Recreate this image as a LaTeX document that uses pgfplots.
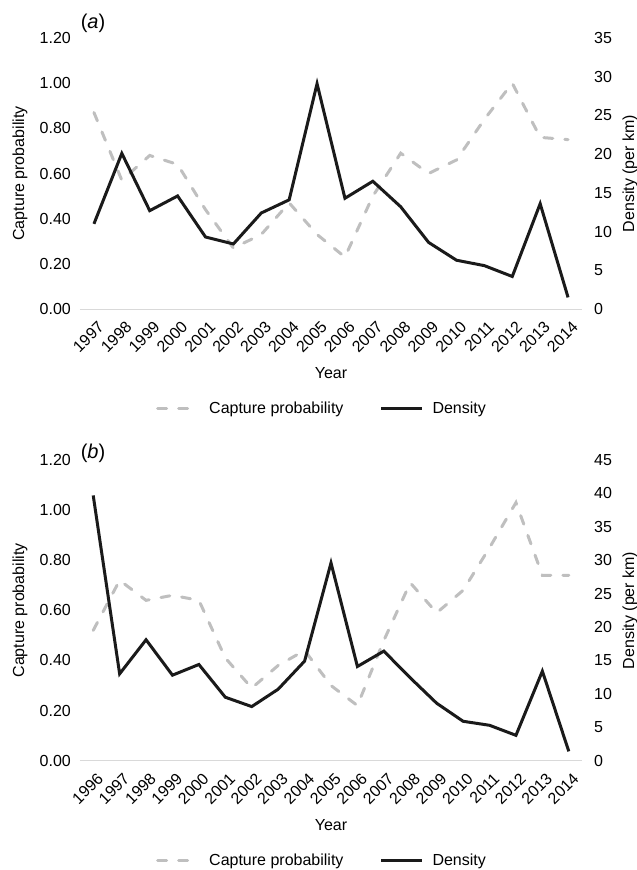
\documentclass[border=0pt]{standalone}
\usepackage{pgfplots}
\pgfplotsset{compat=1.18}
\usepackage{fontspec}
\setmainfont{Liberation Sans}
\definecolor{capg}{HTML}{BFBFBF}
\definecolor{dens}{HTML}{1A1A1A}
\definecolor{basel}{HTML}{D9D9D9}

\pgfplotstableread{
year cap dens
1997 0.87 11.0
1998 0.57 20.1
1999 0.68 12.7
2000 0.64 14.6
2001 0.44 9.3
2002 0.27 8.4
2003 0.33 12.4
2004 0.47 14.1
2005 0.33 29.1
2006 0.23 14.3
2007 0.50 16.5
2008 0.69 13.2
2009 0.60 8.6
2010 0.66 6.3
2011 0.84 5.6
2012 1.00 4.2
2013 0.76 13.6
2014 0.75 1.5
}\dataA

\pgfplotstableread{
year cap dens
1996 0.52 39.7
1997 0.72 13.0
1998 0.64 18.1
1999 0.66 12.8
2000 0.64 14.4
2001 0.41 9.5
2002 0.29 8.1
2003 0.38 10.7
2004 0.44 14.9
2005 0.30 29.6
2006 0.22 14.1
2007 0.48 16.4
2008 0.71 12.4
2009 0.59 8.6
2010 0.68 5.9
2011 0.85 5.3
2012 1.03 3.8
2013 0.74 13.4
2014 0.74 1.4
}\dataB

\pgfplotsset{
  base/.style={
    scale only axis, width=502pt,
    font=\fontsize{16}{19}\selectfont,
    /pgf/number format/assume math mode=true,
    major tick length=0pt, minor tick length=0pt,
    ymin=0, clip=false,
  },
  leftax/.style={base,
    axis x line*=bottom, axis y line*=left,
    x axis line style={draw=basel, line width=1pt, -},
    y axis line style={draw=none},
    ymax=1.2, ytick={0,0.2,0.4,0.6,0.8,1,1.2},
    yticklabel style={/pgf/number format/fixed, /pgf/number format/fixed zerofill, /pgf/number format/precision=2, anchor=east, inner sep=0pt, xshift=-9pt},
    xticklabel style={/pgf/number format/1000 sep={}, inner sep=0pt, xshift=3pt, yshift=-11pt, rotate=45, anchor=north east},
    ylabel={Capture probability},
    ylabel style={at={(axis description cs:-0.1195,0.5)}, anchor=center},
    xlabel={Year},
    xlabel style={at={(axis description cs:0.5,0)}, anchor=center, yshift=-64pt},
  },
  rightax/.style={base,
    axis x line=none, axis y line*=right,
    y axis line style={draw=none},
    xtick=\empty,
    yticklabel style={anchor=west, inner sep=0pt, xshift=12pt},
    ylabel={Density (per km)},
    ylabel style={at={(axis description cs:1.0956,0.5)}, anchor=center, rotate=0},
    legend columns=2,
    legend style={draw=none, fill=none, inner sep=0pt, anchor=west,
      font=\fontsize{16}{19}\selectfont,
      nodes={inner sep=0pt},
      /tikz/every odd column/.append style={column sep=9pt},
      /tikz/every even column/.append style={column sep=36pt}},
    legend image code/.code={\draw[#1] (0pt,0pt) -- (41pt,0pt);},
  },
  capstyle/.style={color=capg, line width=3pt, line cap=round, dash pattern=on 9pt off 12pt},
  densstyle/.style={color=dens, line width=3pt},
}

\begin{document}
\begin{tikzpicture}
\path[use as bounding box] (0pt,0pt) rectangle (637pt,-870pt);

% ---------- panel (a)
\begin{axis}[leftax, at={(80pt,-309pt)}, anchor=south west, height=271pt,
  xmin=1996.5, xmax=2014.5, xtick={1997,...,2014}]
  \addplot[capstyle] table[x=year, y=cap] {\dataA};
  \node[font=\fontsize{20}{23}\selectfont, anchor=center] at (axis description cs:0,1) [xshift=13pt, yshift=15pt] {(\textit{a})};
\end{axis}
\begin{axis}[rightax, at={(80pt,-309pt)}, anchor=south west, height=271pt,
  xmin=1996.5, xmax=2014.5, ymax=35, ytick={0,5,...,35},
  legend style={at={(axis description cs:0.1514,0)}, yshift=-99pt}]
  \addlegendimage{capstyle}
  \addlegendentry{Capture probability}
  \addplot[densstyle] table[x=year, y=dens] {\dataA};
  \addlegendentry{Density}
\end{axis}

% ---------- panel (b)
\begin{axis}[leftax, at={(80pt,-760.7pt)}, anchor=south west, height=300.7pt,
  xmin=1995.5, xmax=2014.5, xtick={1996,...,2014}]
  \addplot[capstyle] table[x=year, y=cap] {\dataB};
  \node[font=\fontsize{20}{23}\selectfont, anchor=center] at (axis description cs:0,1) [xshift=13pt, yshift=7pt] {(\textit{b})};
\end{axis}
\begin{axis}[rightax, at={(80pt,-760.7pt)}, anchor=south west, height=300.7pt,
  xmin=1995.5, xmax=2014.5, ymax=45, ytick={0,5,...,45},
  legend style={at={(axis description cs:0.1514,0)}, yshift=-100pt}]
  \addlegendimage{capstyle}
  \addlegendentry{Capture probability}
  \addplot[densstyle] table[x=year, y=dens] {\dataB};
  \addlegendentry{Density}
\end{axis}
\end{tikzpicture}
\end{document}
